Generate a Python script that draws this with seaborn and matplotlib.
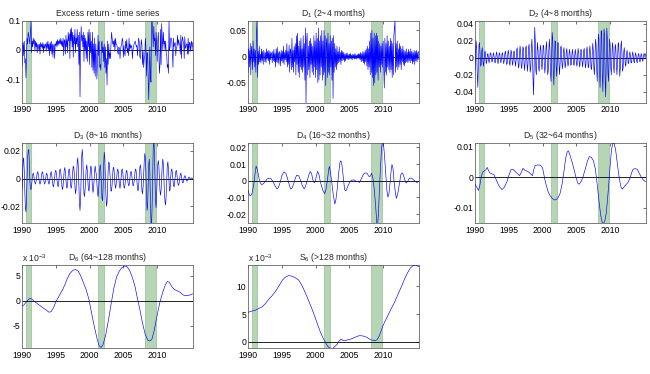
import numpy as np
import pandas as pd
import matplotlib
matplotlib.use("Agg")
import matplotlib.pyplot as plt
import seaborn as sns
from matplotlib.ticker import FuncFormatter

# monthly series from Jan 1990, values in units of 1e-3
excess_ret = [
    -55, 15, 25, -20, 30, -45, -30, -95, -20, 40, 20, 60,
    50, 35, 20, 60, 100, -10, 30, 10, 40, 20, 35, -5,
    30, 10, 25, -10, 20, 15, 0, 20, -15, 25, 10, 20,
    5, 25, -10, 20, 5, 15, 20, -5, 25, 5, 30, 0,
    20, -20, 25, 0, 30, -15, 20, -25, 15, 20, -30, 20,
    15, 30, 10, 35, 15, 30, 20, 35, 20, 40, 15, 30,
    10, 40, -20, 35, 30, -15, 50, 10, 35, -10, 60, 30,
    55, -30, 70, 30, 75, 10, 60, -25, 50, 20, 70, -10,
    40, 20, 70, 10, 50, -50, 60, -160, 20, 80, 30, 50,
    10, 60, -40, 50, 0, 40, -30, 30, -40, 60, 10, 70,
    -50, 60, -10, 30, -60, 60, -70, 20, -80, 40, -90, 20,
    -30, -100, -40, 50, -20, 30, -60, -50, -70, 20, 30, -10,
    10, -40, 20, -60, 10, -80, -30, -120, 30, -50, 20, -30,
    -10, -30, 20, 60, 40, 20, 30, 10, 35, -5, 40, 20,
    20, 10, -10, -15, 10, 5, -30, 0, 15, 20, 40, 30,
    -25, 15, -10, -20, 30, 5, 35, -10, 5, -20, 40, 0,
    20, 5, 15, 10, -30, 0, 10, 20, 25, 30, 20, 10,
    15, -20, 10, 40, 30, -20, -30, 10, 35, 15, -50, -5,
    -60, -30, -20, 40, 10, -90, -10, -10, -100, -170, -80, 10,
    -90, -110, 90, 100, 60, 10, 80, 30, 40, -20, 60, 20,
    -40, 30, 60, -10, -80, -50, 70, -50, 90, 40, 0, 60,
    20, 30, 0, 30, -10, -20, -60, -50, -80, 100, 0, 10,
    40, 40, 30, -10, -60, 40, 10, 20, 25, -20, 5, 10,
    50, 15, 35, 20, 20, -15, 50, -30, 30, 45, 30, 25,
    -30, 45, 5, 10, 20, 20, -15, 40, -15, 25, 25, -5,
    20, 30, 0, 25,
]

d1 = [
    -30, 15, 10, -20, 25, -35, 20, 5, -25, 30, -10, 15,
    -20, 12, -30, 45, 70, -40, 10, -15, 20, -10, 5, -12,
    15, -8, 10, -15, 12, 5, -10, 8, -12, 15, -5, 10,
    -8, 12, -15, 10, -6, 8, 5, -12, 10, -8, 14, -10,
    6, -20, 15, -10, 18, -12, 8, -15, 10, 5, -18, 12,
    -8, 10, -12, 20, -15, 8, -6, 12, -10, 25, -20, 10,
    -15, 22, -30, 15, 10, -25, 35, -20, 12, -30, 20, -10,
    25, -35, 40, -15, 45, -30, 20, -40, 30, -20, 35, -25,
    15, -30, 40, -20, 25, -45, 55, -90, 30, 45, -35, 20,
    -25, 30, -40, 35, -15, 25, -30, 20, -35, 40, -20, 30,
    -40, 45, -25, 35, -50, 55, -45, 30, -35, 40, -20, 50,
    -45, 30, -35, 50, -30, 40, -55, 25, 35, -40, 45, -30,
    25, -35, 40, -20, 30, -45, 35, -80, 40, -30, 25, -20,
    15, -25, 20, -15, 10, -12, 18, -10, 8, -15, 12, -8,
    10, -6, 8, -10, 5, -8, 6, -4, 7, -5, 4, -6,
    5, -4, 6, -5, 3, -6, 5, -3, 4, -5, 6, -4,
    3, -5, 4, -3, 6, -4, 5, -6, 8, -10, 6, -8,
    10, -12, 8, -15, 12, -10, 15, -18, 20, -25, 15, -20,
    30, -35, 45, -30, 50, -40, 35, -55, 45, -50, 40, -35,
    45, -30, 40, -45, 30, -20, 25, -30, 20, -15, 25, -20,
    30, -25, -60, 35, -30, 25, -35, 40, -20, 30, -25, 20,
    -30, 35, -25, 30, -40, 25, -35, 40, 55, 70, -30, 25,
    -20, 30, -25, 15, -20, 25, -15, 20, -25, 15, -10, 20,
    -15, 12, -18, 10, -12, 15, -10, 8, -12, 14, -8, 10,
    -12, 15, -8, 10, -14, 8, -10, 12, -15, 10, -8, 12,
    -10, 8, -6, 10,
]

d2 = [
    -15, 5, 20, 10, -20, -35, -10, 15, 18, 5, -10, -8,
    8, 12, -2, -10, -5, 6, 8, 0, -7, -4, 4, 5,
    -2, -6, -2, 5, 6, 0, -5, -4, 3, 6, 1, -5,
    -6, 1, 7, 4, -4, -7, -1, 6, 5, -3, -6, -1,
    5, 6, -2, -7, -3, 5, 8, 1, -8, -7, 3, 9,
    5, -6, -9, 0, 9, 6, -5, -9, -1, 8, 7, -4,
    -10, -3, 9, 12, 0, -12, -10, 4, 14, 7, -9, -13,
    -2, 13, 11, -6, -15, -5, 12, 14, -3, -16, -8, 12,
    16, 0, -17, -12, 10, 22, 5, -25, -44, -10, 36, 20,
    -15, -20, 5, 18, 8, -12, -16, 2, 15, 10, -8, -14,
    -2, 15, 14, -6, -18, -9, 12, 19, 2, -20, -16, 8,
    22, 10, -18, -28, 0, 30, 22, -15, -32, -8, 20, 18,
    -8, -22, -5, 18, 17, -6, -20, -8, 12, 14, -2, -13,
    -8, 8, 12, 0, -12, -8, 7, 11, 1, -10, -7, 5,
    10, 2, -9, -8, 4, 10, 3, -8, -9, 2, 10, 5,
    -7, -10, 1, 11, 7, -6, -11, -2, 10, 9, -4, -11,
    -4, 9, 11, -1, -12, -8, 8, 13, 2, -12, -10, 6,
    14, 4, -12, -14, 3, 17, 9, -12, -20, -2, 22, 16,
    -14, -28, -3, 28, 22, -15, -35, -10, 32, 30, -20, -40,
    -8, 34, 28, -25, -46, -5, 35, 22, -18, -28, 0, 22,
    15, -12, -20, 0, 18, 12, -10, -18, -2, 16, 12, -8,
    -20, -6, 16, 18, -4, -22, -12, 14, 20, 2, -16, -12,
    6, 12, 2, -10, -8, 4, 9, 2, -7, -6, 3, 7,
    2, -6, -6, 2, 7, 3, -5, -6, 1, 6, 3, -4,
    -6, 0, 5, 4, -3, -5, 0, 5, 3, -3, -4, 1,
    5, 4, 0, 5,
]

# D3 monthly, units of 1e-4
d3 = [
    -80, 30, 130, 150, 60, -90, -210, -240, -150, 10, 150, 200,
    210, 120, -20, -70, -80, -50, -10, 30, 40, 20, -10, -30,
    -40, -20, 10, 40, 50, 30, 0, -30, -40, -30, 0, 30,
    50, 40, 10, -20, -40, -30, 0, 30, 40, 20, -10, -30,
    -40, -20, 10, 40, 50, 20, -20, -50, -60, -30, 10, 50,
    60, 40, 0, -40, -60, -40, 10, 60, 70, 40, -10, -60,
    -80, -50, 10, 60, 80, 50, -10, -60, -70, -30, 20, 60,
    70, 30, -30, -70, -60, -10, 50, 90, 80, 20, -60, -110,
    -80, 20, 120, 150, 80, -60, -180, -230, -150, 10, 160, 210,
    150, 0, -110, -130, -80, 0, 70, 100, 60, -20, -80, -90,
    -40, 40, 90, 80, 20, -60, -100, -80, -10, 60, 90, 50,
    30, -40, -100, -130, -90, -10, 70, 100, 50, -50, -140, -160,
    -60, 100, 190, 150, 20, -120, -200, -170, -60, 60, 120, 110,
    40, -40, -90, -90, -40, 30, 80, 80, 30, -40, -70, -50,
    0, 50, 70, 50, 0, -50, -70, -40, 10, 60, 70, 40,
    -10, -60, -70, -40, 10, 50, 60, 30, -20, -50, -50, -20,
    20, 50, 50, 20, -20, -50, -50, -20, 20, 60, 70, 40,
    -20, -70, -90, -60, 0, 70, 100, 70, -10, -90, -110, -60,
    30, 120, 180, 150, 40, -110, -230, -200, -60, 100, 140, 40,
    -150, -320, -340, -200, 30, 220, 280, 200, 20, -150, -210, -130,
    0, 100, 130, 90, 0, -90, -120, -80, 10, 100, 140, 100,
    0, -110, -170, -190, -120, 0, 100, 120, 70, -20, -90, -80,
    10, 60, 70, 40, -10, -50, -60, -30, 10, 50, 60, 30,
    -10, -40, -50, -30, 0, 30, 40, 20, -10, -30, -30, -10,
    10, 20, 20, 0, -10, -20, -10, 0, 10, 10, 0, 0,
    0, 5, 5, 0,
]

# smoother components read at uneven dates, units of 1e-3
d4_years = [1990.0, 1990.2, 1990.4, 1990.6, 1990.8, 1991.0, 1991.2, 1991.4, 1991.6, 1991.8,
            1992.0, 1992.2, 1992.5, 1992.8, 1993.1, 1993.4, 1993.7, 1994.0, 1994.3, 1994.5,
            1994.8, 1995.0, 1995.3, 1995.6, 1995.8, 1996.0, 1996.3, 1996.5, 1996.8, 1997.0,
            1997.2, 1997.5, 1997.8, 1998.0, 1998.3, 1998.5, 1998.8, 1999.0, 1999.2, 1999.4,
            1999.6, 1999.8, 1999.95, 2000.1, 2000.3, 2000.5, 2000.7, 2000.9, 2001.1, 2001.35,
            2001.55, 2001.75, 2001.95, 2002.05, 2002.2, 2002.4, 2002.6, 2002.85, 2003.0, 2003.2,
            2003.4, 2003.6, 2003.75, 2003.9, 2004.1, 2004.3, 2004.5, 2004.8, 2005.1, 2005.4,
            2005.7, 2006.0, 2006.3, 2006.5, 2006.8, 2007.1, 2007.35, 2007.6, 2007.85, 2008.05,
            2008.3, 2008.5, 2008.7, 2008.9, 2009.05, 2009.15, 2009.3, 2009.45, 2009.6, 2009.75,
            2009.9, 2010.05, 2010.2, 2010.4, 2010.55, 2010.7, 2010.85, 2011.0, 2011.15, 2011.3,
            2011.45, 2011.6, 2011.8, 2011.95, 2012.15, 2012.4, 2012.6, 2012.8, 2013.0, 2013.2,
            2013.4, 2013.6, 2013.9, 2014.2, 2014.5, 2014.8, 2015.0, 2015.25]
d4_vals = [-5.5, -8.6, -9.0, -7.5, -3.5, 3.0, 8.8, 6.5, 2.0, -1.2,
           -2.3, -2.0, -0.8, 1.0, 1.6, 1.2, -0.5, -3.0, -5.0, -4.0,
           -0.5, 3.0, 5.3, 4.5, 2.0, -1.0, -5.0, -4.5, -1.4, 1.5,
           3.3, 3.0, 0.0, -2.5, -4.9, -3.5, 0.6, 3.5, 5.5, 4.5,
           0.5, -1.2, -0.4, 2.5, 5.7, 3.7, -0.5, -3.5, -6.0, -7.8,
           -5.0, 0.5, 7.0, 8.6, 5.0, -1.0, -8.0, -14.0, -11.5, -5.0,
           4.0, 11.0, 12.0, 9.5, 2.0, -5.5, -6.0, -3.0, -0.4, 0.4,
           0.5, -0.3, -0.6, -1.0, 1.5, 4.0, 4.7, 4.6, 2.8, 2.5,
           4.5, 1.0, -6.0, -16.0, -25.0, -28.0, -20.0, -5.0, 8.0, 19.0,
           24.0, 22.0, 15.0, 3.0, -6.0, -9.8, -8.0, -2.0, 5.0, 9.8,
           7.5, 0.0, -7.0, -10.6, -8.0, -2.0, 3.5, 4.8, 3.5, 0.5,
           -1.4, -0.5, 1.6, 1.5, 0.5, -0.6, -1.0, -0.5]

d5_years = [1990.0, 1990.25, 1990.5, 1990.7, 1990.9, 1991.1, 1991.4, 1991.6, 1991.8, 1992.0,
            1992.2, 1992.5, 1992.8, 1993.1, 1993.4, 1993.7, 1994.0, 1994.3, 1994.7, 1995.0,
            1995.3, 1995.6, 1995.9, 1996.2, 1996.6, 1996.9, 1997.1, 1997.4, 1997.7, 1998.0,
            1998.3, 1998.5, 1998.7, 1998.9, 1999.3, 1999.7, 2000.0, 2000.2, 2000.4, 2000.8,
            2001.1, 2001.4, 2001.7, 2002.0, 2002.3, 2002.6, 2002.9, 2003.2, 2003.4, 2003.6,
            2003.8, 2004.0, 2004.3, 2004.6, 2004.9, 2005.2, 2005.4, 2005.7, 2006.0, 2006.3,
            2006.6, 2006.9, 2007.2, 2007.5, 2007.8, 2008.0, 2008.2, 2008.4, 2008.6, 2008.8,
            2009.0, 2009.2, 2009.4, 2009.6, 2009.8, 2010.0, 2010.2, 2010.4, 2010.6, 2010.8,
            2011.0, 2011.2, 2011.4, 2011.6, 2011.8, 2012.0, 2012.3, 2012.6, 2012.9, 2013.2,
            2013.4, 2013.7, 2014.0, 2014.3, 2014.6, 2014.9, 2015.25]
d5_vals = [-2.2, -3.2, -4.3, -2.8, -0.2, 1.6, 2.1, 2.4, 3.2, 2.2,
           1.4, 1.1, 0.8, -0.6, -2.2, -3.3, -4.0, -3.4, -1.6, 0.5,
           2.4, 2.6, 2.0, 1.3, 0.5, 1.8, 2.9, 2.2, 2.0, 1.6,
           0.9, 0.5, 2.5, 3.8, 4.0, 3.9, 3.0, 0.8, -1.5, -4.6,
           -6.0, -6.8, -7.4, -7.3, -6.6, -5.2, -2.0, 2.5, 6.0, 8.0,
           8.6, 7.6, 5.4, 3.0, 0.3, -1.9, -2.3, -1.4, 0.3, 2.5,
           5.0, 6.7, 6.5, 5.5, 2.8, -0.8, -4.8, -8.8, -12.4, -14.5,
           -15.2, -14.2, -12.0, -7.5, -2.0, 4.0, 9.0, 11.2, 10.9, 9.0,
           5.5, 2.0, -1.0, -3.2, -3.9, -3.3, -2.5, -1.8, -0.5, 1.6,
           2.6, 2.8, 2.6, 1.3, 0.0, -0.9, -1.5]

d6_years = [1990.0, 1990.3, 1990.6, 1990.9, 1991.2, 1991.5, 1991.8, 1992.3, 1992.8, 1993.4,
            1994.0, 1994.3, 1994.7, 1995.0, 1995.5, 1996.0, 1996.4, 1996.7, 1997.1, 1997.5,
            1997.9, 1998.3, 1998.7, 1999.1, 1999.5, 1999.9, 2000.3, 2000.7, 2001.1, 2001.4,
            2001.7, 2002.0, 2002.4, 2002.8, 2003.2, 2003.6, 2004.0, 2004.4, 2004.8, 2005.2,
            2005.5, 2005.9, 2006.3, 2006.7, 2007.0, 2007.4, 2007.8, 2008.2, 2008.6, 2008.9,
            2009.2, 2009.5, 2009.8, 2010.1, 2010.4, 2010.8, 2011.2, 2011.5, 2011.8, 2012.1,
            2012.5, 2013.0, 2013.4, 2013.8, 2014.2, 2014.7, 2015.25]
d6_vals = [-1.1, -0.8, -0.3, 0.2, 0.5, 0.3, -0.1, -0.6, -1.1, -1.7,
           -2.3, -2.2, -1.3, -0.2, 1.0, 2.2, 3.4, 4.5, 5.5, 6.1,
           6.3, 6.0, 5.0, 3.6, 2.2, 0.3, -2.5, -5.2, -7.6, -9.0,
           -9.4, -8.8, -6.8, -3.8, -0.5, 2.6, 4.8, 6.0, 6.7, 7.0,
           6.9, 6.2, 4.8, 3.0, 1.0, -1.5, -4.3, -6.6, -7.9, -8.1,
           -7.8, -6.3, -4.3, -2.2, -0.3, 1.6, 3.2, 3.9, 3.7, 3.0,
           2.3, 2.0, 1.7, 1.2, 1.0, 1.1, 1.4]

s6_years = [1990.0, 1990.5, 1991.1, 1991.6, 1992.1, 1992.6, 1993.1, 1993.5, 1993.9, 1994.3,
            1994.7, 1995.1, 1995.5, 1996.0, 1996.5, 1997.0, 1997.5, 1997.9, 1998.3, 1998.7,
            1999.1, 1999.5, 1999.9, 2000.3, 2000.7, 2001.1, 2001.5, 2001.8, 2002.1, 2002.5,
            2002.8, 2003.2, 2003.5, 2003.8, 2004.1, 2004.4, 2004.8, 2005.2, 2005.6, 2006.0,
            2006.4, 2006.8, 2007.2, 2007.6, 2008.0, 2008.4, 2008.8, 2009.1, 2009.4, 2009.7,
            2010.0, 2010.4, 2010.8, 2011.2, 2011.6, 2012.0, 2012.4, 2012.8, 2013.2, 2013.6,
            2014.0, 2014.4, 2014.8, 2015.25]
s6_vals = [5.3, 5.5, 5.7, 6.0, 6.3, 6.9, 7.7, 8.2, 8.8, 9.5,
           10.3, 11.1, 11.6, 11.9, 11.8, 11.5, 11.1, 10.3, 9.3, 8.2,
           7.0, 5.8, 4.5, 3.1, 1.8, 0.7, -0.2, -0.8, -1.1, -1.2,
           -0.9, -0.4, 0.2, 0.5, 0.2, 0.2, 0.4, 0.5, 0.7, 0.9,
           1.1, 1.1, 1.0, 0.8, 0.5, 0.3, 0.2, 0.4, 1.0, 2.0,
           3.0, 4.0, 5.0, 6.0, 6.9, 8.0, 9.1, 10.2, 11.4, 12.4,
           13.2, 13.7, 13.8, 13.5]

recessions = [(1990.55, 1991.3), (2001.3, 2002.15), (2008.25, 2009.83)]
year_ticks = [1990, 1995, 2000, 2005, 2010]


def monthly(vals, scale):
    v = np.array(vals, dtype=float) * scale
    return pd.DataFrame({"year": 1990 + np.arange(len(v)) / 12.0, "value": v})


def uneven(years, vals, scale):
    return pd.DataFrame({"year": years, "value": np.array(vals) * scale})


panels = [
    ("Excess return - time series", monthly(excess_ret, 1e-3), (-0.18, 0.1), [-0.1, 0, 0.1]),
    ("D$_1$ (2~4 months)", monthly(d1, 1e-3), (-0.088, 0.069), [-0.05, 0, 0.05]),
    ("D$_2$ (4~8 months)", monthly(d2, 1e-3), (-0.053, 0.044), [-0.04, -0.02, 0, 0.02, 0.04]),
    ("D$_3$ (8~16 months)", monthly(d3, 1e-4), (-0.032, 0.026), [-0.02, 0, 0.02]),
    ("D$_4$ (16~32 months)", uneven(d4_years, d4_vals, 1e-3), (-0.0254, 0.023), [-0.02, -0.01, 0, 0.01, 0.02]),
    ("D$_5$ (32~64 months)", uneven(d5_years, d5_vals, 1e-3), (-0.0149, 0.0113), [-0.01, 0, 0.01]),
    ("D$_6$ (64~128 months)", uneven(d6_years, d6_vals, 1), (-9.5, 7.2), [-5, 0, 5]),
    ("S$_6$ (>128 months)", uneven(s6_years, s6_vals, 1), (-1.1, 13.8), [0, 5, 10]),
]

sns.set_style("white")
plt.rcParams["font.family"] = ["Liberation Sans", "DejaVu Sans"]
plt.rcParams["mathtext.fontset"] = "custom"
plt.rcParams["mathtext.rm"] = "Liberation Sans"
plt.rcParams["mathtext.it"] = "Liberation Sans:italic"
plt.rcParams["axes.unicode_minus"] = False

W, H = 650, 374
fig = plt.figure(figsize=(W / 100, H / 100), dpi=100)

col_px = [(22, 193), (248, 419), (475, 646)]
row_px = [(20.5, 102.7), (142.5, 223), (265, 348)]
fs = 6.2

for i, (title, df, ylim, yticks) in enumerate(panels):
    r, c = divmod(i, 3)
    x0, x1 = col_px[c]
    y0, y1 = row_px[r]
    ax = fig.add_axes([x0 / W, 1 - y1 / H, (x1 - x0) / W, (y1 - y0) / H])
    for a, b in recessions:
        ax.axvspan(a, b, facecolor="#b5d5b5", edgecolor="#98bc98", lw=0.5, zorder=1)
    ax.axhline(0, color="black", lw=0.6, zorder=2)
    sns.lineplot(data=df, x="year", y="value", ax=ax, color="blue", lw=0.45, zorder=3)
    ax.set_xlim(1990, 2015.3)
    ax.set_ylim(*ylim)
    ax.set_xticks(year_ticks)
    ax.set_yticks(yticks)
    ax.yaxis.set_major_formatter(FuncFormatter(lambda v, p: "%g" % v))
    ax.set_xlabel("")
    ax.set_ylabel("")
    ax.tick_params(direction="in", length=2, width=0.5, top=True, right=True,
                   labelsize=fs, pad=2, colors="#333333", labelcolor="black")
    ax.tick_params(axis="y", pad=1.2)
    for s in ax.spines.values():
        s.set_color("#666666")
        s.set_linewidth(0.6)
    ax.set_title(title, fontsize=fs, pad=3.5)
    if i >= 6:
        ax.text(0.0, 1.01, "x 10$^{-3}$", transform=ax.transAxes, ha="left",
                va="bottom", fontsize=fs)

fig.savefig("out.png", dpi=100)
